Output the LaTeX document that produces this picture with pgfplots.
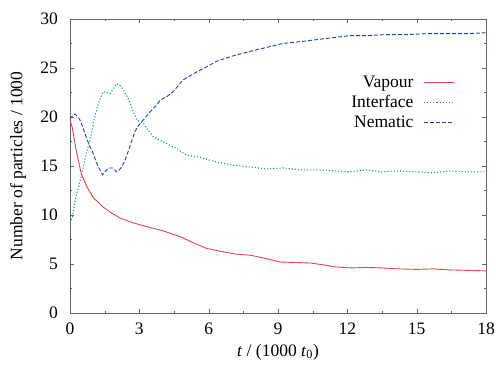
\documentclass[border=0pt]{standalone}
\usepackage{pgfplots}
\pgfplotsset{compat=1.18}
\usepackage{fontspec}
\setmainfont{Liberation Serif}
\definecolor{vap}{RGB}{222,70,80}
\definecolor{intf}{RGB}{20,150,130}
\definecolor{nem}{RGB}{35,65,165}
\begin{document}
\fontsize{17.5}{20}\selectfont
\begin{tikzpicture}
\begin{axis}[
  scale only axis,
  width=416pt, height=294pt,
  xmin=0, xmax=18, ymin=0, ymax=30,
  xtick={0,3,6,9,12,15,18},
  ytick={0,5,10,15,20,25,30},
  minor x tick num=1, minor y tick num=1,
  tick align=inside,
  major tick length=4pt, minor tick length=2pt,
  axis line style={gray!80!black, line width=0.6pt},
  tick style={gray!80!black},
  /pgf/number format/assume math mode=true,
  xticklabel style={yshift=-4pt},
  yticklabel style={xshift=-6pt},
  xlabel={\textit{t} / (1000 \textit{t}\textsubscript{0})},
  ylabel={Number of particles / 1000},
  xlabel style={at={(axis description cs:0.5,0)}, anchor=center, yshift=-39pt},
  ylabel style={at={(axis description cs:0,0.5)}, anchor=center, rotate=0, yshift=52pt},
  legend style={draw=none, fill=white, at={(0.925,0.815)}, anchor=north east, font=\fontsize{17.5}{20}\selectfont, row sep=1.5pt, inner sep=0pt,
    /tikz/every odd column/.append style={column sep=8pt}},
  legend cell align=right,
  legend plot pos=right,
  legend image code/.code={\draw[#1] (0pt,0pt) -- (30pt,0pt);},
]
\addplot[vap, line width=0.9pt] coordinates {
(0,19.7) (0.1,18.9) (0.25,16.8) (0.5,14.1) (0.75,12.8) (1.0,11.8) (1.44,10.8) (1.8,10.2) (2.16,9.7) (2.6,9.3) (3.03,9.0) (3.5,8.7) (4.0,8.4) (4.76,7.8) (5.3,7.2) (5.9,6.6) (6.5,6.3) (7.2,6.0) (7.8,5.9) (8.4,5.6) (9.1,5.2) (9.8,5.15) (10.4,5.1) (11.0,4.9) (11.5,4.7) (12.2,4.6) (12.8,4.65) (13.5,4.6) (14.2,4.5) (15.0,4.45) (15.7,4.5) (16.4,4.4) (17.2,4.35) (18,4.3)
};
\addlegendentry{Vapour}
\addplot[intf, line width=1.1pt, dotted] coordinates {
(0,9.2) (0.1,9.8) (0.25,11.8) (0.5,14.1) (0.7,16.2) (0.87,17.7) (1.05,19.8) (1.23,21.4) (1.44,22.6) (1.6,22.5) (1.73,22.4) (1.88,22.9) (2.02,23.4) (2.16,23.2) (2.31,22.8) (2.45,22.2) (2.6,21.4) (2.75,20.5) (2.89,19.7) (3.05,19.5) (3.17,19.4) (3.3,18.9) (3.6,18.0) (4.0,17.5) (4.6,16.8) (5.05,16.1) (5.6,15.9) (6.35,15.4) (7.0,15.1) (7.8,14.9) (8.5,14.7) (9.2,14.8) (10.0,14.6) (10.8,14.6) (11.5,14.5) (12.1,14.4) (12.8,14.6) (13.5,14.4) (14.2,14.5) (15.0,14.4) (15.7,14.3) (16.4,14.5) (17.2,14.4) (18,14.4)
};
\addlegendentry{Interface}
\addplot[nem, line width=0.9pt, dash pattern=on 4pt off 2pt] coordinates {
(0,19.8) (0.1,20.1) (0.22,20.3) (0.35,20.0) (0.43,19.7) (0.58,18.8) (0.72,17.8) (0.86,17.0) (1.0,16.3) (1.12,15.5) (1.23,14.9) (1.41,14.1) (1.55,14.5) (1.66,14.8) (1.87,14.8) (2.02,14.4) (2.13,14.6) (2.24,14.9) (2.38,15.6) (2.52,16.5) (2.66,17.5) (2.81,18.5) (2.95,19.1) (3.1,19.5) (3.28,20.0) (3.46,20.5) (3.7,21.1) (3.9,21.7) (4.2,22.1) (4.47,22.6) (4.9,23.8) (5.48,24.6) (5.9,25.1) (6.35,25.7) (7.0,26.2) (7.8,26.7) (8.5,27.1) (9.2,27.5) (10.0,27.7) (10.7,27.9) (11.4,28.1) (12.1,28.3) (12.8,28.3) (13.6,28.4) (14.5,28.4) (15.4,28.5) (16.5,28.5) (17.2,28.5) (18,28.6)
};
\addlegendentry{Nematic}
\end{axis}
\pgfresetboundingbox
\path ([shift={(-70pt,-54pt)}]current axis.south west) rectangle ([shift={(10pt,19pt)}]current axis.north east);
\end{tikzpicture}
\end{document}
